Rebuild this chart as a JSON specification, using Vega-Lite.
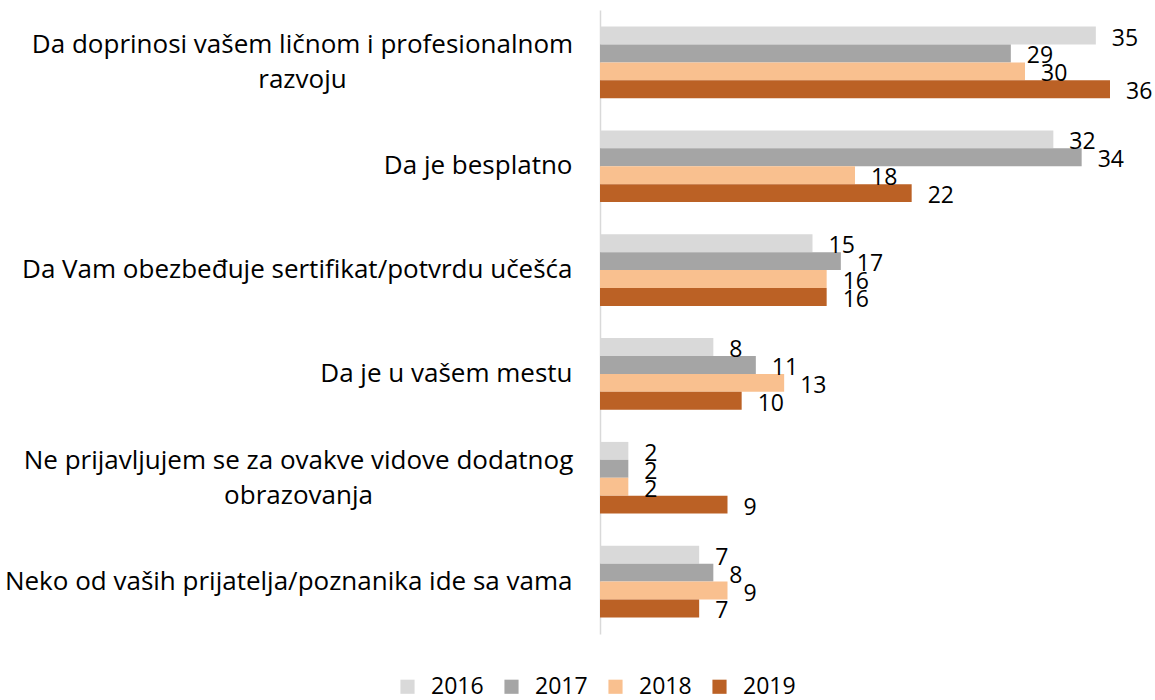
{
  "$schema": "https://vega.github.io/schema/vega-lite/v6.json",
  "autosize": {"type": "none"},
  "width": 510,
  "height": 624,
  "padding": {"left": 600, "top": 10, "right": 45, "bottom": 66},
  "background": "white",
  "config": {"view": {"stroke": null}, "font": "Open Sans"},
  "data": {"values": [
    {"category": "Da doprinosi vašem ličnom i profesionalnom razvoju", "year": "2016", "value": 35},
    {"category": "Da doprinosi vašem ličnom i profesionalnom razvoju", "year": "2017", "value": 29},
    {"category": "Da doprinosi vašem ličnom i profesionalnom razvoju", "year": "2018", "value": 30},
    {"category": "Da doprinosi vašem ličnom i profesionalnom razvoju", "year": "2019", "value": 36},
    {"category": "Da je besplatno", "year": "2016", "value": 32},
    {"category": "Da je besplatno", "year": "2017", "value": 34},
    {"category": "Da je besplatno", "year": "2018", "value": 18},
    {"category": "Da je besplatno", "year": "2019", "value": 22},
    {"category": "Da Vam obezbeđuje sertifikat/potvrdu učešća", "year": "2016", "value": 15},
    {"category": "Da Vam obezbeđuje sertifikat/potvrdu učešća", "year": "2017", "value": 17},
    {"category": "Da Vam obezbeđuje sertifikat/potvrdu učešća", "year": "2018", "value": 16},
    {"category": "Da Vam obezbeđuje sertifikat/potvrdu učešća", "year": "2019", "value": 16},
    {"category": "Da je u vašem mestu", "year": "2016", "value": 8},
    {"category": "Da je u vašem mestu", "year": "2017", "value": 11},
    {"category": "Da je u vašem mestu", "year": "2018", "value": 13},
    {"category": "Da je u vašem mestu", "year": "2019", "value": 10},
    {"category": "Ne prijavljujem se za ovakve vidove dodatnog obrazovanja", "year": "2016", "value": 2},
    {"category": "Ne prijavljujem se za ovakve vidove dodatnog obrazovanja", "year": "2017", "value": 2},
    {"category": "Ne prijavljujem se za ovakve vidove dodatnog obrazovanja", "year": "2018", "value": 2},
    {"category": "Ne prijavljujem se za ovakve vidove dodatnog obrazovanja", "year": "2019", "value": 9},
    {"category": "Neko od vaših prijatelja/poznanika ide sa vama", "year": "2016", "value": 7},
    {"category": "Neko od vaših prijatelja/poznanika ide sa vama", "year": "2017", "value": 8},
    {"category": "Neko od vaših prijatelja/poznanika ide sa vama", "year": "2018", "value": 9},
    {"category": "Neko od vaših prijatelja/poznanika ide sa vama", "year": "2019", "value": 7}
  ]},
  "encoding": {
    "y": {
      "field": "category", "type": "nominal", "sort": null,
      "scale": {"paddingInner": 0.31, "paddingOuter": 0.16},
      "axis": {
        "title": null, "ticks": false, "domainColor": "#d9d9d9", "domainWidth": 1.5,
        "labelFont": "Open Sans", "labelFontSize": 26, "labelColor": "#000000", "labelLimit": 600,
        "labelLineHeight": 35,
        "labelPadding": {"condition": [
          {"test": "indexof(datum.value, 'razvoju') >= 0", "value": 298},
          {"test": "indexof(datum.value, 'obrazovanja') >= 0", "value": 302}
        ], "value": 28},
        "labelAlign": {"condition": {"test": "indexof(datum.value, 'razvoju') >= 0 || indexof(datum.value, 'obrazovanja') >= 0", "value": "center"}, "value": "right"},
        "labelOffset": {"condition": {"test": "indexof(datum.value, 'razvoju') >= 0 || indexof(datum.value, 'obrazovanja') >= 0", "value": -17}, "value": 0},
        "labelExpr": "indexof(datum.value, 'razvoju') >= 0 ? ['Da doprinosi vašem ličnom i profesionalnom', 'razvoju'] : indexof(datum.value, 'obrazovanja') >= 0 ? ['Ne prijavljujem se za ovakve vidove dodatnog', 'obrazovanja'] : datum.value"
      }
    },
    "yOffset": {"field": "year", "type": "nominal", "scale": {"paddingInner": 0, "paddingOuter": 0}},
    "x": {"field": "value", "type": "quantitative", "scale": {"domain": [0, 36]}, "axis": null}
  },
  "layer": [
    {
      "mark": {"type": "bar"},
      "encoding": {
        "color": {
          "field": "year", "type": "nominal",
          "scale": {"domain": ["2016", "2017", "2018", "2019"], "range": ["#d9d9d9", "#a5a5a5", "#f9c08f", "#bb6125"]},
          "legend": {
            "title": null, "orient": "none", "direction": "horizontal", "columns": 4,
            "legendX": -204, "legendY": 665,
            "symbolType": "square", "symbolSize": 200, "symbolStrokeWidth": 0,
            "labelFont": "Open Sans", "labelFontSize": 23, "labelColor": "#000000",
            "labelOffset": 12, "columnPadding": 16
          }
        }
      }
    },
    {
      "mark": {"type": "text", "align": "left", "baseline": "middle", "dx": 16, "dy": 3, "fontSize": 23, "font": "Open Sans", "color": "#000000", "clip": false},
      "encoding": {"text": {"field": "value", "type": "quantitative"}}
    }
  ]
}
